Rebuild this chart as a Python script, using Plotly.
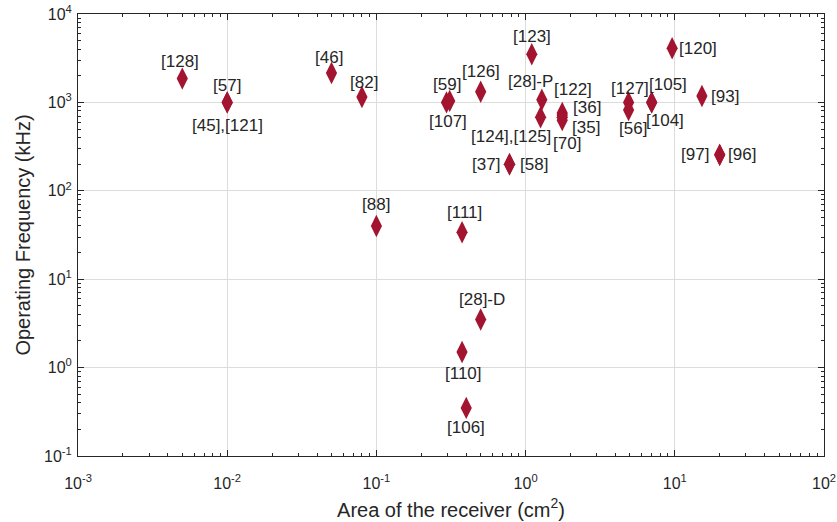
import plotly.graph_objects as go
import math

# ---- data ----
ref_labels = ["[128]", "[57]", "[45],[121]", "[46]", "[82]", "[59]", "[107]",
              "[126]", "[123]", "[28]-P", "[124],[125]", "[122]", "[36]", "[70]",
              "[35]", "[37]", "[58]", "[127]", "[56]", "[105]", "[104]", "[120]",
              "[93]", "[97]", "[96]", "[88]", "[111]", "[28]-D", "[110]", "[106]"]
area_cm2 = [0.005, 0.01, 0.01, 0.05, 0.08, 0.295, 0.31,
            0.5, 1.10, 1.285, 1.26, 1.76, 1.76, 1.76,
            1.76, 0.78, 0.78, 4.9, 4.9, 7.0, 7.0, 9.6,
            15.2, 20.0, 20.0, 0.1, 0.375, 0.5, 0.375, 0.4]
freq_khz = [1860, 1000, 1000, 2150, 1150, 1000, 1040,
            1320, 3500, 1070, 680, 760, 720, 680,
            630, 200, 200, 1000, 820, 1000, 1000, 4100,
            1180, 255, 255, 40, 34, 3.5, 1.5, 0.35]

x_tick_exps = [-3, -2, -1, 0, 1, 2]
y_tick_exps = [-1, 0, 1, 2, 3, 4]

# label placement offsets (pixels, dy positive = up) -- styling only
label_offsets = [(-2, 17), (0, 17), (0, -23), (-2, 16), (2, 15), (0, 18), (-2, -21),
                 (0, 20), (0, 18), (-11, 18), (-30, -19), (11, 23), (25, 8), (5, -26),
                 (24, -7), (-24, 0), (24, 0), (1, 14), (4, -18), (16, 18), (13, -18), (26, 0),
                 (23, 0), (-25, 0), (22, 0), (0, 21), (2, 20), (1, 20), (1, -21), (0, -20)]

MARK = "#A2142F"
TXT = "#262626"
FONT = "Liberation Sans, Arial, Helvetica, sans-serif"

fig = go.Figure()
fig.add_trace(go.Scatter(
    x=area_cm2, y=freq_khz, mode="markers",
    marker=dict(symbol="diamond-tall", size=16, color=MARK, line=dict(width=0)),
    hoverinfo="x+y", showlegend=False))

for lab, xv, yv, (dx, dy) in zip(ref_labels, area_cm2, freq_khz, label_offsets):
    fig.add_annotation(x=math.log10(xv), y=math.log10(yv), text=lab,
                       showarrow=False, xshift=dx, yshift=dy,
                       xanchor="center", yanchor="middle",
                       font=dict(family=FONT, size=17, color=TXT))


def minor_vals(exps):
    return [k * 10 ** e for e in exps[:-1] for k in range(2, 10)]


axis_common = dict(
    type="log", showline=True, linecolor=TXT, linewidth=1, mirror="ticks",
    ticks="inside", ticklen=6, tickcolor=TXT, tickwidth=1,
    showgrid=True, gridcolor="#dcdcdc", gridwidth=1, zeroline=False,
    tickfont=dict(family=FONT, size=16, color=TXT),
    tickmode="array", automargin=False,
)

fig.update_xaxes(
    **axis_common, range=[-3, 2],
    tickvals=[10 ** e for e in x_tick_exps],
    ticktext=[f"10<sup>{e}</sup>" for e in x_tick_exps],
    ticklabelstandoff=13,
    minor=dict(ticks="inside", ticklen=3, tickcolor=TXT, showgrid=False,
               tickmode="array", tickvals=minor_vals(x_tick_exps)),
    title=dict(text="Area of the receiver (cm<sup>2</sup>)",
               font=dict(family=FONT, size=20, color=TXT), standoff=11))
fig.update_yaxes(
    **axis_common, range=[-1, 4],
    tickvals=[10 ** e for e in y_tick_exps],
    ticktext=[f"10<sup>{e}</sup>" for e in y_tick_exps],
    ticklabelstandoff=2,
    minor=dict(ticks="inside", ticklen=3, tickcolor=TXT, showgrid=False,
               tickmode="array", tickvals=minor_vals(y_tick_exps)),
    title=dict(text="Operating Frequency (kHz)",
               font=dict(family=FONT, size=20, color=TXT), standoff=8))

fig.update_layout(
    width=837, height=522,
    margin=dict(l=78, r=13, t=14, b=66, autoexpand=False),
    paper_bgcolor="white", plot_bgcolor="white",
    font=dict(family=FONT, color=TXT),
)

fig.write_html("out.html", config={"displayModeBar": False},
               post_script="document.body.style.margin='0';document.body.style.overflow='hidden';")
